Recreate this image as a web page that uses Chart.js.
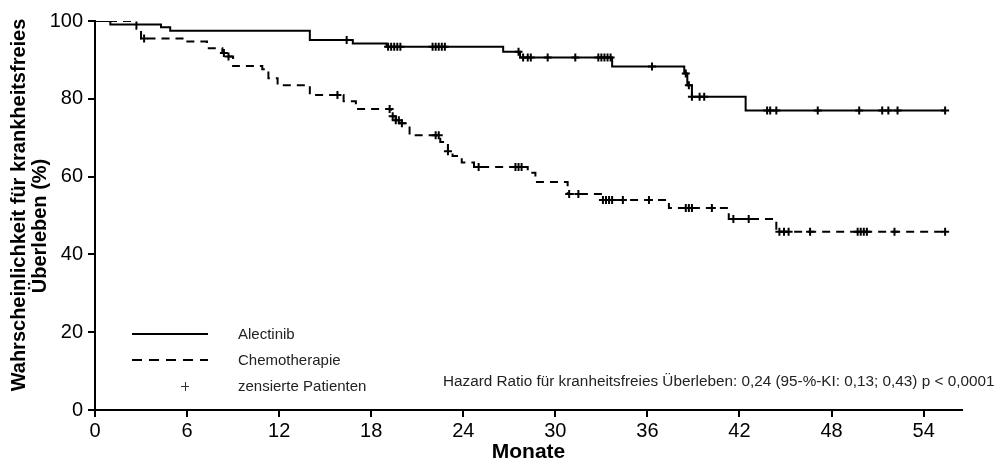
<!DOCTYPE html>
<html>
<head>
<meta charset="utf-8">
<script src="https://cdn.jsdelivr.net/npm/chart.js@4.4.1/dist/chart.umd.min.js"></script>
<style>
  body { margin: 0; background: #fff; }
  #wrap { width: 998px; height: 470px; }
</style>
</head>
<body>
<div id="wrap"><canvas id="km-chart"></canvas></div>
<script>
// Kaplan-Meier steps (Monate -> % krankheitsfrei)
const alecTimes = [0, 1.0, 4.3, 4.9, 14.0, 16.8, 19.0, 26.6, 27.7, 33.7, 38.4, 38.6, 38.9, 42.4, 55.4];
const alecSurv = [100, 99.1, 98.4, 97.5, 95.1, 94.2, 93.4, 92.1, 90.6, 88.3, 86.5, 83.5, 80.5, 77.0, 77.0];
const alecCensored = [16.4, 19.1, 19.3, 19.5, 19.7, 19.9, 22.0, 22.2, 22.4, 22.6, 22.8, 27.6, 27.9, 28.2, 28.4,
  29.5, 31.3, 32.8, 33.0, 33.2, 33.4, 33.6, 36.3, 38.5, 38.7, 38.9, 39.4, 39.7, 43.8, 44.0, 44.4, 47.1, 49.8,
  51.3, 51.7, 52.3, 55.4];

const chemoTimes = [0, 2.7, 3.0, 5.9, 7.3, 8.3, 8.6, 9.0, 10.9, 11.3, 11.9, 14.0, 16.2, 17.0, 19.3, 19.6, 19.9,
  20.5, 22.5, 23.0, 23.3, 23.9, 24.7, 28.2, 28.7, 30.8, 33.1, 37.4, 41.3, 44.4, 55.4];
const chemoSurv = [100, 98.0, 95.5, 94.7, 93.0, 91.8, 90.9, 88.4, 87.6, 85.3, 83.5, 81.0, 79.4, 77.4, 75.5, 74.5,
  73.7, 70.6, 68.9, 66.5, 65.3, 63.6, 62.5, 61.0, 58.6, 55.5, 54.0, 51.9, 49.1, 45.8, 45.8];
const chemoCensored = [3.2, 8.4, 8.7, 15.8, 19.2, 19.4, 19.6, 19.8, 20.0, 22.2, 22.4, 23.0, 25.0, 27.4, 27.6, 27.8,
  30.9, 31.5, 33.1, 33.3, 33.5, 33.7, 34.4, 36.1, 38.5, 38.7, 38.9, 40.2, 41.6, 42.6, 44.6, 44.9, 45.2, 46.6,
  49.7, 49.9, 50.1, 50.3, 52.1, 55.4];

const xTicks = [0, 6, 12, 18, 24, 30, 36, 42, 48, 54];
const yTicks = [0, 20, 40, 60, 80, 100];

const yTitleLines = ["Wahrscheinlichkeit für krankheitsfreies", "Überleben (%)"];
const legendLabels = ["Alectinib", "Chemotherapie", "zensierte Patienten"];
const hazardText = "Hazard Ratio für kranheitsfreies Überleben: 0,24 (95-%-KI: 0,13; 0,43) p < 0,0001";

const FONT = "'Liberation Sans', Arial, sans-serif";

function stepPoints(times, surv) {
  return times.map((t, i) => ({ x: t, y: surv[i] }));
}

// y of the curve at time t (last step at or before t)
function censorPoints(times, surv, cens) {
  return cens.map(t => {
    let i = 0;
    while (i + 1 < times.length && times[i + 1] <= t) i++;
    return { x: t, y: surv[i] };
  });
}

const legendPlugin = {
  id: "kmLegend",
  afterDraw(chart) {
    const ctx = chart.ctx;
    ctx.save();
    ctx.strokeStyle = "#000";
    ctx.lineWidth = 2;
    ctx.beginPath();
    ctx.moveTo(132, 334); ctx.lineTo(208, 334);
    ctx.stroke();
    ctx.setLineDash([10, 7]);
    ctx.beginPath();
    ctx.moveTo(132, 360); ctx.lineTo(208, 360);
    ctx.stroke();
    ctx.setLineDash([]);
    ctx.lineWidth = 1;
    ctx.strokeStyle = "#333";
    ctx.beginPath();
    ctx.moveTo(181, 386.5); ctx.lineTo(189, 386.5);
    ctx.moveTo(185.5, 382); ctx.lineTo(185.5, 391);
    ctx.stroke();

    ctx.fillStyle = "#222";
    ctx.font = "15px " + FONT;
    ctx.textBaseline = "middle";
    ctx.fillText(legendLabels[0], 238, 335);
    ctx.fillText(legendLabels[1], 238, 361);
    ctx.fillText(legendLabels[2], 238, 387);

    ctx.font = "15.3px " + FONT;
    ctx.fillText(hazardText, 443, 382);

    // y axis title, two rotated lines
    ctx.fillStyle = "#000";
    ctx.font = "bold 20px " + FONT;
    ctx.textAlign = "center";
    ctx.save();
    ctx.translate(19, 205);
    ctx.rotate(-Math.PI / 2);
    ctx.fillText(yTitleLines[0], 0, 0);
    ctx.restore();
    ctx.save();
    ctx.translate(40, 226);
    ctx.rotate(-Math.PI / 2);
    ctx.fillText(yTitleLines[1], 0, 0);
    ctx.restore();
    ctx.restore();
  }
};

const ctx = document.getElementById("km-chart").getContext("2d");
new Chart(ctx, {
  type: "line",
  data: {
    datasets: [
      {
        label: legendLabels[0],
        data: stepPoints(alecTimes, alecSurv),
        borderColor: "#000",
        borderWidth: 2,
        stepped: true,
        pointRadius: 0,
        fill: false,
      },
      {
        label: legendLabels[1],
        data: stepPoints(chemoTimes, chemoSurv),
        borderColor: "#000",
        borderWidth: 2,
        borderDash: [8, 6],
        stepped: true,
        pointRadius: 0,
        fill: false,
      },
      {
        label: "zensiert Alectinib",
        data: censorPoints(alecTimes, alecSurv, alecCensored),
        showLine: false,
        pointStyle: "cross",
        pointRadius: 4,
        borderColor: "#000",
        pointBorderWidth: 2,
      },
      {
        label: "zensiert Chemo",
        data: censorPoints(chemoTimes, chemoSurv, chemoCensored),
        showLine: false,
        pointStyle: "cross",
        pointRadius: 4,
        borderColor: "#000",
        pointBorderWidth: 2,
      },
    ],
  },
  options: {
    responsive: true,
    maintainAspectRatio: false,
    animation: false,
    layout: { padding: { top: 21, right: 36, left: 0, bottom: 0 } },
    plugins: {
      legend: { display: false },
      tooltip: { enabled: false },
    },
    scales: {
      x: {
        type: "linear",
        min: 0,
        max: 56.5,
        afterBuildTicks: s => { s.ticks = xTicks.map(v => ({ value: v })); },
        afterFit: s => { s.height = 60; },
        border: { color: "#000", width: 2 },
        grid: { drawOnChartArea: false, color: "#000", lineWidth: 2, tickLength: 7 },
        ticks: { color: "#000", font: { family: FONT, size: 20 }, padding: 2, maxRotation: 0 },
        title: {
          display: true,
          text: "Monate",
          color: "#000",
          font: { family: FONT, size: 21, weight: "bold", lineHeight: 1.2 },
          padding: { top: 0, bottom: 5 },
        },
      },
      y: {
        min: 0,
        max: 100,
        afterBuildTicks: s => { s.ticks = yTicks.map(v => ({ value: v })); },
        afterFit: s => { s.width = 95; },
        border: { color: "#000", width: 2 },
        grid: { drawOnChartArea: false, color: "#000", lineWidth: 2, tickLength: 7 },
        ticks: { color: "#000", font: { family: FONT, size: 20 }, padding: 5 },
        title: { display: false },
      },
    },
  },
  plugins: [legendPlugin],
});
</script>
</body>
</html>
